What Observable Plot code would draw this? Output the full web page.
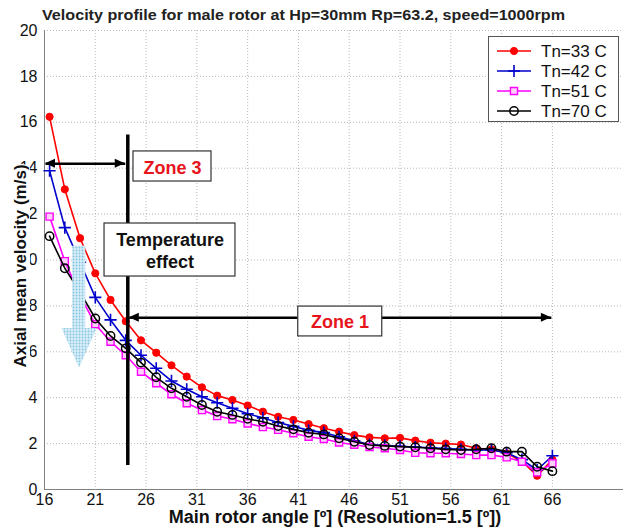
<!DOCTYPE html>
<html><head><meta charset="utf-8">
<script src="https://cdn.jsdelivr.net/npm/d3@7"></script>
<script src="https://cdn.jsdelivr.net/npm/@observablehq/plot@0.6"></script>
<style>
body{margin:0;background:#fff}
#chart{position:relative;width:623px;height:529px}
</style>
</head><body><div id="chart"></div>
<script>
// ---- data ----
const angles = [16.5,18,19.5,21,22.5,24,25.5,27,28.5,30,31.5,33,34.5,36,37.5,39,40.5,42,43.5,45,46.5,48,49.5,51,52.5,54,55.5,57,58.5,60,61.5,63,64.5,66];
const tn33 = [16.24,13.08,10.95,9.42,8.26,7.33,6.5,5.96,5.41,4.92,4.45,4.09,3.9,3.66,3.39,3.17,3.03,2.85,2.67,2.52,2.37,2.27,2.23,2.25,2.13,2.04,2.0,1.96,1.8,1.75,1.58,1.22,0.6,1.3];
const tn42 = [13.89,11.41,9.9,8.37,7.39,6.5,5.85,5.28,4.73,4.37,4.04,3.78,3.54,3.3,3.12,2.92,2.75,2.58,2.48,2.3,2.12,1.96,1.92,1.88,1.85,1.82,1.78,1.75,1.72,1.72,1.6,1.3,0.85,1.47];
const tn51 = [11.89,9.95,8.45,7.2,6.44,5.85,5.13,4.63,4.15,3.76,3.46,3.2,3.06,2.88,2.72,2.6,2.45,2.3,2.2,2.05,1.95,1.85,1.8,1.72,1.6,1.58,1.58,1.55,1.5,1.5,1.4,1.21,0.75,1.14];
const tn70 = [11.04,9.64,8.6,7.45,6.69,6.15,5.53,4.89,4.41,4.04,3.68,3.39,3.25,3.08,2.95,2.77,2.62,2.47,2.4,2.23,2.08,1.94,1.9,1.87,1.84,1.8,1.75,1.72,1.75,1.8,1.65,1.65,0.99,0.8];
const seriesNames = ["Tn=33 C","Tn=42 C","Tn=51 C","Tn=70 C"];
const xTicks = [16,21,26,31,36,41,46,51,56,61,66];
const yTicks = [0,2,4,6,8,10,12,14,16,18,20];
const titleText = "Velocity profile for male rotor at Hp=30mm Rp=63.2, speed=1000rpm";
const xLabel = "Main rotor angle [º] (Resolution=1.5 [º])";
const yLabel = "Axial mean velocity (m/s)";
// annotations (data coordinates)
const zoneLine = [{x: 24.2, y1: 1.05, y2: 15.45}];
const zoneArrows = [{x1: 16.1, x2: 23.95, y: 14.19}, {x1: 24.35, x2: 65.9, y: 7.48}];
const zoneBoxes = [{x1: 24.76, x2: 32.44, y1: 13.42, y2: 14.73}, {x1: 21.91, x2: 34.8, y1: 9.28, y2: 11.59}, {x1: 40.98, x2: 49.25, y1: 6.67, y2: 7.97}];
const boxTexts = [{x: 28.6, y: 14.07, text: "Zone 3", red: true}, {x: 28.36, y: 10.44, text: "Temperature\neffect", red: false}, {x: 45.1, y: 7.32, text: "Zone 1", red: true}];
const tempArrow = [[18.8,10.6],[20.05,10.6],[20.05,7.0],[21.15,7.0],[19.45,5.3],[17.75,7.0],[18.8,7.0]];

// ---- build ----
const seriesValues = [tn33, tn42, tn51, tn70];
const styles = [
  {color: "#ff0000", symbol: "circle", r: 3.6, fill: "#ff0000", sw: 1},
  {color: "#0000cc", symbol: "plus", r: 4, fill: "none", sw: 1.6},
  {color: "#ff00ff", symbol: "square", r: 4, fill: "#ffd0ff", sw: 1.4},
  {color: "#000000", symbol: "circle", r: 4.2, fill: "none", sw: 1.5}
];
const rows = [];
seriesNames.forEach((name, i) => angles.forEach((a, j) => rows.push({series: name, angle: a, v: seriesValues[i][j]})));

const seriesMarks = [];
seriesNames.forEach((name, i) => {
  const st = styles[i];
  const d = rows.filter(r => r.series === name);
  seriesMarks.push(Plot.line(d, {x: "angle", y: "v", stroke: st.color, strokeWidth: 1.6}));
  seriesMarks.push(Plot.dot(d, {x: "angle", y: "v", symbol: st.symbol, r: st.r, fill: st.fill, stroke: st.color, strokeWidth: st.sw}));
});

const font = "'Liberation Sans', Arial, sans-serif";
const plot = Plot.plot({
  width: 623, height: 529,
  marginTop: 30, marginBottom: 40, marginLeft: 44, marginRight: 0,
  style: {fontFamily: font, fontSize: "16px", background: "white", color: "#111"},
  x: {domain: [16, 73], ticks: xTicks, tickSize: 0, tickPadding: 4, label: null},
  y: {domain: [0, 20], ticks: yTicks, tickSize: 0, tickPadding: 7, label: null},
  marks: [
    Plot.ruleX(xTicks, {stroke: "#b8b8b8", strokeDasharray: "1,2"}),
    Plot.ruleY(yTicks, {stroke: "#b8b8b8", strokeDasharray: "1,2"}),
    Plot.ruleY([0], {stroke: "#808080"}),
    Plot.ruleX([16], {stroke: "#808080"}),
    ...seriesMarks,
    Plot.ruleX(zoneLine, {x: "x", y1: "y1", y2: "y2", stroke: "black", strokeWidth: 3.5}),
    Plot.link(zoneArrows, {x1: "x1", x2: "x2", y1: "y", y2: "y", stroke: "black", strokeWidth: 2.5}),
    Plot.rect(zoneBoxes, {x1: "x1", x2: "x2", y1: "y1", y2: "y2", fill: "white", stroke: "#333", strokeWidth: 1.2}),
    Plot.text(boxTexts, {x: "x", y: "y", text: "text", fill: d => d.red ? "#e8141c" : "#111", fontWeight: "bold", fontSize: 18, lineHeight: 1.2})
  ]
});
document.getElementById("chart").appendChild(plot);

// ---- post-processing: arrowheads, temperature arrow, titles, legend ----
const svg = d3.select(plot);
const X = v => plot.scale("x").apply(v);
const Y = v => plot.scale("y").apply(v);

// dotted pattern for the temperature arrow
const defs = svg.insert("defs", ":first-child");
const pat = defs.append("pattern").attr("id", "tempdots").attr("width", 3).attr("height", 3).attr("patternUnits", "userSpaceOnUse");
pat.append("rect").attr("width", 3).attr("height", 3).attr("fill", "#d8eff9");
pat.append("circle").attr("cx", 1.5).attr("cy", 1.5).attr("r", 0.9).attr("fill", "#86c3df");
const arrowPts = tempArrow.map(p => `${X(p[0])},${Y(p[1])}`).join(" ");
svg.append("polygon").attr("points", arrowPts).attr("fill", "#b9dff0");
svg.append("polygon").attr("points", arrowPts).attr("fill", "url(#tempdots)");

// filled arrowheads at both ends of zone arrows
const ag = svg.append("g");
zoneArrows.forEach(a => {
  const y = Y(a.y), xl = X(a.x1), xr = X(a.x2);
  ag.append("path").attr("d", `M${xl},${y}L${xl + 10},${y - 4.5}L${xl + 10},${y + 4.5}Z`).attr("fill", "black");
  ag.append("path").attr("d", `M${xr},${y}L${xr - 10},${y - 4.5}L${xr - 10},${y + 4.5}Z`).attr("fill", "black");
});

// title
svg.append("text").attr("x", 42).attr("y", 20).attr("text-anchor", "start").attr("font-family", font).attr("font-weight", "bold")
  .attr("font-size", 15.5).attr("textLength", 523).attr("lengthAdjust", "spacingAndGlyphs").attr("fill", "#222").text(titleText);

// x label
svg.append("text").attr("x", 335).attr("y", 523).attr("text-anchor", "middle").attr("font-family", font)
  .attr("font-weight", "bold").attr("font-size", 18).attr("fill", "#111").text(xLabel);

// y label with white backing (hides part of the tick labels as in the original)
const yl = svg.append("text").attr("transform", "translate(26,266) rotate(-90)").attr("text-anchor", "middle")
  .attr("font-family", font).attr("font-weight", "bold").attr("font-size", 17).attr("fill", "#111").text(yLabel);
const bb = yl.node().getBBox();
svg.insert("rect", () => yl.node()).attr("x", 26 + bb.y).attr("y", 266 - bb.x - bb.width)
  .attr("width", bb.height).attr("height", bb.width).attr("fill", "white");

// legend
const lg = svg.append("g");
lg.append("rect").attr("x", 488.5).attr("y", 36.5).attr("width", 130).attr("height", 85).attr("fill", "white").attr("stroke", "#555");
const symMap = {circle: d3.symbolCircle, plus: d3.symbolPlus, square: d3.symbolSquare};
seriesNames.forEach((name, i) => {
  const st = styles[i];
  const cy = 51 + i * 20;
  lg.append("line").attr("x1", 497).attr("x2", 531).attr("y1", cy).attr("y2", cy).attr("stroke", st.color).attr("stroke-width", 1.6);
  lg.append("path").attr("transform", `translate(514,${cy})`)
    .attr("d", d3.symbol(symMap[st.symbol], Math.PI * st.r * st.r)())
    .attr("fill", st.fill).attr("stroke", st.color).attr("stroke-width", st.sw);
  lg.append("text").attr("x", 541).attr("y", cy + 6).attr("text-anchor", "start").attr("font-family", font).attr("font-size", 17).attr("fill", "#111").text(name);
});
</script>
</body></html>
